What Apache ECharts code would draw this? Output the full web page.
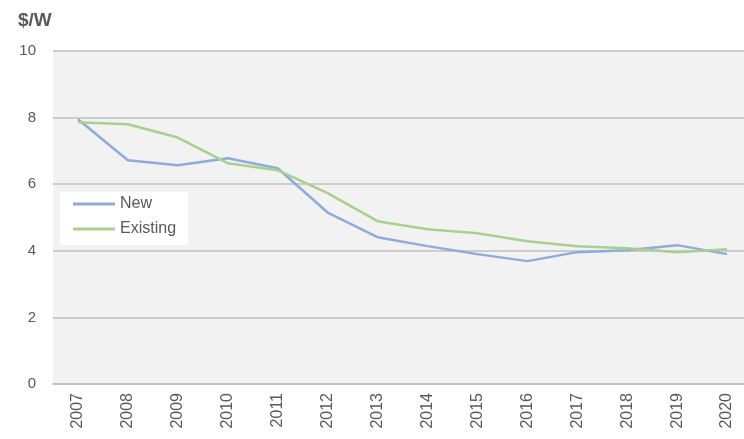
<!DOCTYPE html>
<html>
<head>
<meta charset="utf-8">
<script src="https://cdn.jsdelivr.net/npm/echarts@6/dist/echarts.min.js"></script>
<style>
  html, body { margin: 0; padding: 0; background: #fff; overflow: hidden; }
  /* plot area runs a bit past the right edge of the window, as in the source */
  #chart { width: 752px; height: 439px; }
</style>
</head>
<body>
<div id="chart"></div>
<script>
// years on the x axis
var years = ['2007', '2008', '2009', '2010', '2011', '2012', '2013',
  '2014', '2015', '2016', '2017', '2018', '2019', '2020'];

// $/W
var newData = [7.95, 6.72, 6.57, 6.78, 6.48, 5.15, 4.41, 4.14, 3.9, 3.69, 3.96, 4.02, 4.17, 3.9];
var existingData = [7.86, 7.8, 7.4, 6.63, 6.42, 5.73, 4.89, 4.65, 4.53, 4.29, 4.14, 4.08, 3.96, 4.05];

var chart = echarts.init(document.getElementById('chart'));

var option = {
  animation: false,
  textStyle: { fontFamily: 'Liberation Sans, Arial, sans-serif' },
  title: {
    text: '$/W',
    left: 13,
    top: 6,
    textStyle: { fontSize: 19, fontWeight: 'bold', color: '#595959' }
  },
  legend: {
    orient: 'vertical',
    left: 60,
    top: 192,
    backgroundColor: '#ffffff',
    padding: [4, 12, 8, 13],
    itemWidth: 42,
    itemHeight: 3,
    itemGap: 9,
    icon: 'rect',
    textStyle: { fontSize: 16, color: '#595959' },
    data: ['New', 'Existing']
  },
  grid: {
    left: 53,
    right: 0,
    top: 51,
    bottom: 55,
    show: true,
    backgroundColor: '#f2f2f2',
    borderWidth: 0
  },
  xAxis: {
    type: 'category',
    data: years,
    boundaryGap: true,
    axisLine: { lineStyle: { color: '#bfbfbf', width: 1.5 } },
    axisTick: { length: 6, lineStyle: { color: '#bfbfbf', width: 1.5 } },
    axisLabel: { rotate: 90, fontSize: 16, color: '#595959', margin: 9 }
  },
  yAxis: {
    type: 'value',
    min: 0,
    max: 10,
    interval: 2,
    axisLine: { show: false },
    axisTick: { show: false },
    axisLabel: { fontSize: 15, color: '#595959', margin: 17 },
    splitLine: { lineStyle: { color: '#bfbfbf', width: 1.5 } }
  },
  series: [
    {
      name: 'New',
      type: 'line',
      data: newData,
      symbol: 'none',
      lineStyle: { color: '#8faadc', width: 2.5 },
      itemStyle: { color: '#8faadc' }
    },
    {
      name: 'Existing',
      type: 'line',
      data: existingData,
      symbol: 'none',
      lineStyle: { color: '#a9d18e', width: 2.5 },
      itemStyle: { color: '#a9d18e' }
    }
  ]
};

chart.setOption(option);
</script>
</body>
</html>
